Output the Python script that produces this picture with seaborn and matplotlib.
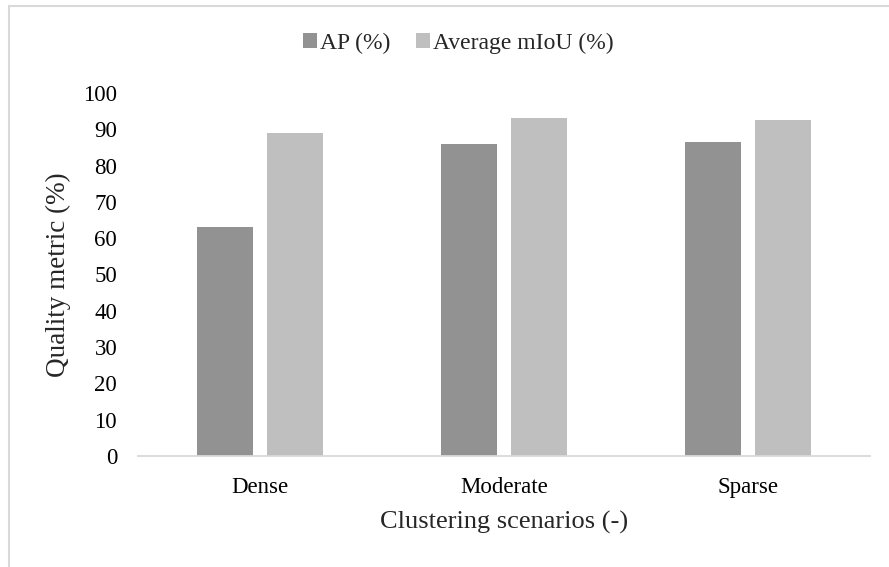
import matplotlib
matplotlib.use("Agg")
import matplotlib.pyplot as plt
from matplotlib.patches import Rectangle
import seaborn as sns
import pandas as pd

categories = ["Dense", "Moderate", "Sparse"]
ap_values = [63.2, 86.0, 86.5]
miou_values = [89.1, 93.1, 92.6]
series_names = ["AP (%)", "Average mIoU (%)"]
y_ticks = [0, 10, 20, 30, 40, 50, 60, 70, 80, 90, 100]

df = pd.DataFrame({
    "Scenario": categories * 2,
    "Value": ap_values + miou_values,
    "Metric": [series_names[0]] * 3 + [series_names[1]] * 3,
})

sns.set_style("white")
plt.rcParams["font.family"] = ["Liberation Serif", "DejaVu Serif"]

fig = plt.figure(figsize=(8.89, 5.67), dpi=100)
ax = fig.add_axes([138 / 889, 1 - 456 / 567, 732 / 889, 363 / 567])

sns.barplot(data=df, x="Scenario", y="Value", hue="Metric", ax=ax,
            palette=["#929292", "#bfbfbf"], saturation=1, width=0.574,
            gap=0.214, linewidth=0, order=categories, hue_order=series_names)

ax.set_ylim(0, 100)
ax.set_yticks(y_ticks)
ax.set_yticklabels([str(t) for t in y_ticks])
for s in ["top", "right", "left"]:
    ax.spines[s].set_visible(False)
ax.spines["bottom"].set_color("#d9d9d9")
ax.spines["bottom"].set_linewidth(1.3)
ax.tick_params(axis="both", length=0, labelsize=16.5, colors="black")
ax.tick_params(axis="y", pad=15)
ax.tick_params(axis="x", pad=15)

ax.set_ylabel("Quality metric (%)", fontsize=19.5)
ax.set_xlabel("Clustering scenarios (-)", fontsize=19)
ax.yaxis.set_label_coords(-0.092, 0.5)
ax.xaxis.set_label_coords(0.5, -0.152)

sns.move_legend(ax, "center", bbox_to_anchor=(458 / 889, 1 - 43 / 567),
                bbox_transform=fig.transFigure, ncol=2, frameon=False,
                title=None, fontsize=17, handlelength=0.6, handleheight=0.6,
                handletextpad=0.12, columnspacing=1.1)

fig.patches.append(Rectangle((9.3 / 889, -0.2), 2.0, 1.2 - 6.4 / 567,
                             transform=fig.transFigure, fill=False,
                             edgecolor="#d9d9d9", linewidth=1.5))

fig.savefig("out.png", dpi=100, facecolor="white")
